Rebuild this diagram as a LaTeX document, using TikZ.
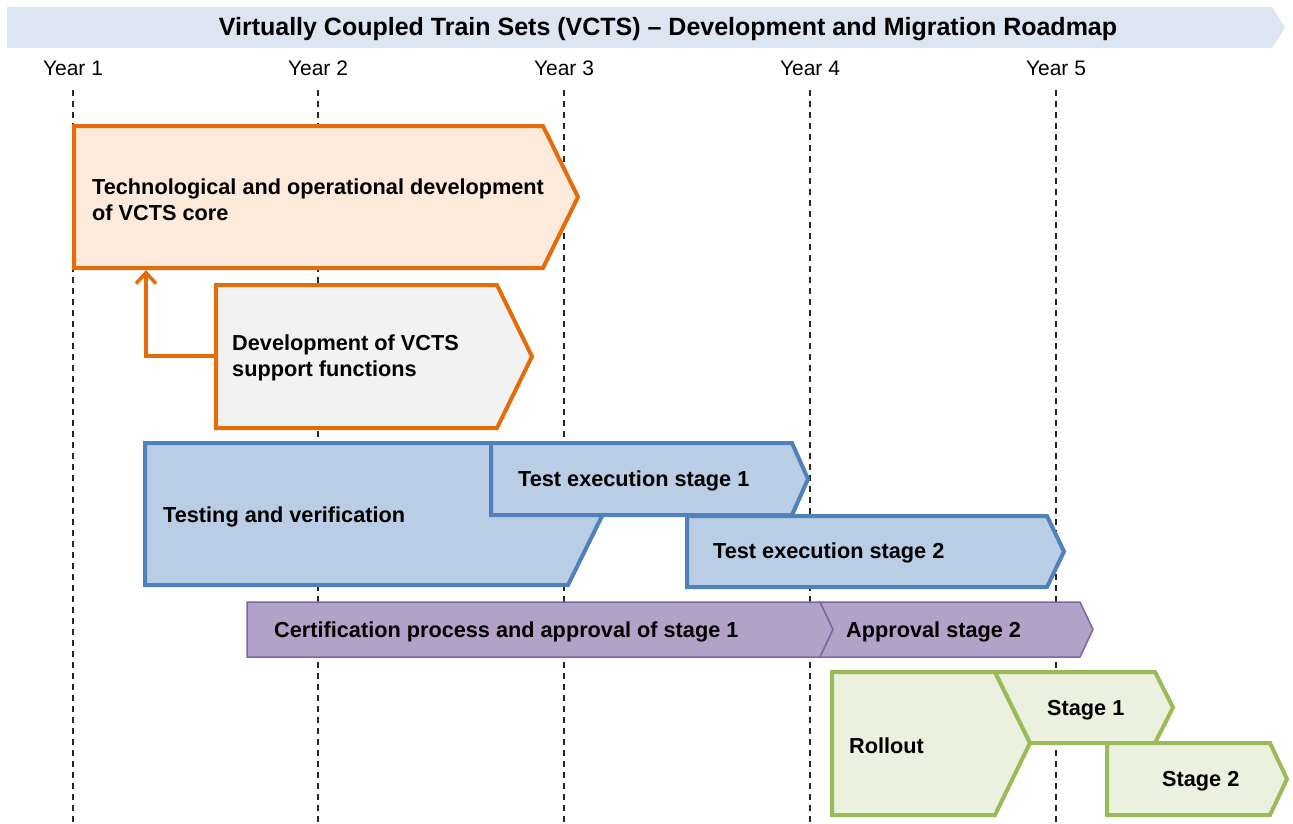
\documentclass[tikz,border=0pt]{standalone}
\usepackage{fontspec}
\setmainfont{Liberation Sans}
\usetikzlibrary{arrows.meta}
\definecolor{bannerfill}{HTML}{DCE6F2}
\definecolor{orangeline}{HTML}{E46C0A}
\definecolor{corefill}{HTML}{FDEADA}
\definecolor{supportfill}{HTML}{F2F2F2}
\definecolor{blueline}{HTML}{4F81BD}
\definecolor{bluefill}{HTML}{B9CDE5}
\definecolor{purpleline}{HTML}{8064A2}
\definecolor{purplefill}{HTML}{B3A2C7}
\definecolor{greenline}{HTML}{9BBB59}
\definecolor{greenfill}{HTML}{EBF1DE}

\begin{document}
\begin{tikzpicture}[x=1pt,y=-1pt,
    boxtext/.style={font=\fontsize{21.7}{26}\selectfont\bfseries, anchor=west, align=left, inner sep=0pt, yshift=-2pt},
    yearlabel/.style={font=\fontsize{21}{24}\selectfont, inner sep=0pt},
    yearline/.style={black!85, line width=1.5pt, dash pattern=on 6pt off 5pt},
    orangebox/.style={draw=orangeline, line width=4pt, line join=miter},
    bluebox/.style={draw=blueline, fill=bluefill, line width=4pt, line join=miter},
    purplebox/.style={draw=purpleline, fill=purplefill, line width=1.5pt, line join=miter},
    greenbox/.style={draw=greenline, fill=greenfill, line width=4pt, line join=miter}]
\useasboundingbox (0,0) rectangle (1293,823);

% title banner
\fill[bannerfill] (7,7) -- (1272,7) -- (1285,27.5) -- (1272,48) -- (7,48) -- cycle;
\node[font=\fontsize{25}{30}\selectfont\bfseries, inner sep=0pt] (title) at (668,29)
    {Virtually Coupled Train Sets (VCTS) -- Development and Migration Roadmap};

% years
\foreach \i/\x in {1/73,2/318,3/564,4/810,5/1056} {
    \node[yearlabel] (year\i) at (\x,68) {Year \i};
    \draw[yearline] (\x,90) -- (\x,823);
}

% development
\draw[orangebox, fill=corefill] (74,126) -- (543,126) -- (578,197) -- (543,268) -- (74,268) -- cycle;
\node[boxtext] (core) at (92,198) {Technological and operational development\\of VCTS core};

\draw[orangebox, fill=supportfill] (216,285) -- (497,285) -- (532,356.5) -- (497,428) -- (216,428) -- cycle;
\node[boxtext] (support) at (232,356) {Development of VCTS\\support functions};

\coordinate (supportin) at (216,356);
\coordinate (coreout) at (146,270);
\draw[orangeline, line width=3.5pt, -{Straight Barb[length=11pt,width=20pt]}] (supportin) -| (coreout);

% testing
\draw[bluebox] (145,443) -- (568,443) -- (603,514) -- (568,585) -- (145,585) -- cycle;
\node[boxtext] (testing) at (163,515) {Testing and verification};

\draw[bluebox] (491,443) -- (792,443) -- (808,479) -- (792,515) -- (491,515) -- cycle;
\node[boxtext] (testone) at (518,479) {Test execution stage 1};

\draw[bluebox] (687,516) -- (1047,516) -- (1064,551.5) -- (1047,587) -- (687,587) -- cycle;
\node[boxtext] (testtwo) at (713,551) {Test execution stage 2};

% certification
\draw[purplebox] (247,602) -- (820,602) -- (833,629.5) -- (820,657) -- (247,657) -- cycle;
\node[boxtext] (cert) at (274,630) {Certification process and approval of stage 1};

\draw[purplebox] (820,602) -- (1080,602) -- (1093,629.5) -- (1080,657) -- (820,657) -- (833,629.5) -- cycle;
\node[boxtext] (approval) at (846,630) {Approval stage 2};

% rollout
\draw[greenbox] (832,672) -- (995,672) -- (1030,743) -- (995,815) -- (832,815) -- cycle;
\node[boxtext] (rollout) at (849,744) {Rollout};

\draw[greenbox] (995,672) -- (1155,672) -- (1173,707.5) -- (1155,743) -- (1030,743) -- cycle;
\node[boxtext] (stageone) at (1047,708) {Stage 1};

\draw[greenbox] (1107,743) -- (1270,743) -- (1287,779) -- (1270,815) -- (1107,815) -- cycle;
\node[boxtext] (stagetwo) at (1162,779) {Stage 2};
\end{tikzpicture}
\end{document}
